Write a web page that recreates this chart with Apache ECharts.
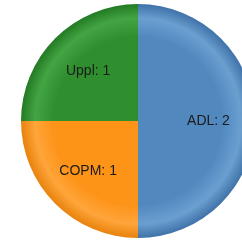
<!DOCTYPE html>
<html>
<head>
<meta charset="utf-8">
<script src="https://cdn.jsdelivr.net/npm/echarts@6/dist/echarts.min.js"></script>
<style>
  html, body { margin: 0; padding: 0; background: #fff; }
  #chart { width: 242px; height: 240px; }
</style>
</head>
<body>
<div id="chart"></div>
<script>
// 饼图数据
const categories = ['ADL', 'COPM', 'Uppl']
const values = [2, 1, 1]
const colors = [
  ['#5189bf', '#6a9fd0', '#3f72a8'],
  ['#fd9317', '#ffa53a', '#e8820c'],
  ['#2f8f2f', '#43a443', '#237a23']
]

const cx = 138
const cy = 121
const r = 117

// 径向渐变，边缘稍亮再变暗
function shade(c) {
  return {
    type: 'radial', x: cx, y: cy, r: r, global: true,
    colorStops: [
      { offset: 0, color: c[0] },
      { offset: 0.72, color: c[0] },
      { offset: 0.88, color: c[1] },
      { offset: 1, color: c[2] }
    ]
  }
}

const pieData = categories.map((name, i) => ({ name: name, value: values[i] }))

const chart = echarts.init(document.getElementById('chart'))
chart.setOption({
  animation: false,
  series: [{
    // 饼图本体
    type: 'pie',
    center: [cx, cy],
    radius: [0, r],
    startAngle: 90,
    silent: true,
    label: { show: false },
    labelLine: { show: false },
    itemStyle: { borderWidth: 0 },
    data: pieData.map((d, i) => ({ ...d, itemStyle: { color: shade(colors[i]) } }))
  }, {
    // 透明层，只用来放标签（标签离圆心更远一点）
    type: 'pie',
    center: [cx, cy],
    radius: [18, r],
    startAngle: 90,
    silent: true,
    itemStyle: { color: 'rgba(0,0,0,0)', borderWidth: 0 },
    label: {
      show: true,
      position: 'inside',
      formatter: '{b}: {c}',
      color: '#1a1a1a',
      fontFamily: 'Liberation Sans, Arial, sans-serif',
      fontSize: 14
    },
    labelLine: { show: false },
    data: pieData
  }]
})
</script>
</body>
</html>
